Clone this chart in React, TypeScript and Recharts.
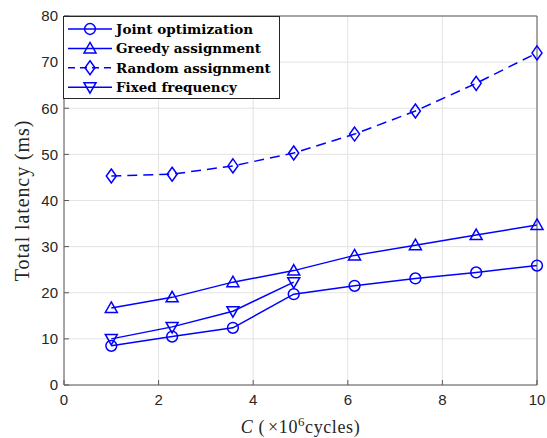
import React from "react";
import { LineChart, Line, XAxis, YAxis, CartesianGrid, Legend } from "recharts";

// computation load C (x10^6 cycles)
const cycles = [1, 2.286, 3.571, 4.857, 6.143, 7.429, 8.714, 10];
const jointOpt = [8.5, 10.5, 12.4, 19.7, 21.5, 23.1, 24.4, 25.9];
const greedyAssign = [16.7, 19.0, 22.3, 24.8, 28.1, 30.3, 32.5, 34.7];
const randomAssign = [45.3, 45.7, 47.5, 50.3, 54.4, 59.4, 65.4, 72.0];
const fixedFreq = [10.0, 12.6, 16.0, 22.3];

const xTicks = [0, 2, 4, 6, 8, 10];
const yTicks = [0, 10, 20, 30, 40, 50, 60, 70, 80];

const BLUE = "#0000ff";
const AXIS = "#262626";
const BOX = "#5a5a5a";
const SERIF = "'Liberation Serif', 'Times New Roman', Times, 'DejaVu Serif', serif";
const SANS = "'Liberation Sans', Arial, Helvetica, 'Open Sans', sans-serif";

type Shape = "circle" | "up" | "diamond" | "down";

const series: { key: string; name: string; shape: Shape; dash?: string }[] = [
  { key: "joint", name: "Joint optimization", shape: "circle" },
  { key: "greedy", name: "Greedy assignment", shape: "up" },
  { key: "random", name: "Random assignment", shape: "diamond", dash: "10 6" },
  { key: "fixed", name: "Fixed frequency", shape: "down" },
];

const data = cycles.map((c, i) => ({
  c,
  joint: jointOpt[i],
  greedy: greedyAssign[i],
  random: randomAssign[i],
  fixed: fixedFreq[i],
}));

function Marker({ shape, cx, cy }: { shape: Shape; cx: number; cy: number }) {
  const p = { fill: "none", stroke: BLUE, strokeWidth: 1.5 };
  if (shape === "circle") return <circle cx={cx} cy={cy} r={5.4} {...p} />;
  if (shape === "up")
    return <polygon points={`${cx},${cy - 6} ${cx + 6},${cy + 4.5} ${cx - 6},${cy + 4.5}`} {...p} />;
  if (shape === "down")
    return <polygon points={`${cx},${cy + 6} ${cx + 6},${cy - 4.5} ${cx - 6},${cy - 4.5}`} {...p} />;
  return <polygon points={`${cx},${cy - 7} ${cx + 5},${cy} ${cx},${cy + 7} ${cx - 5},${cy}`} {...p} />;
}

const dotFor = (shape: Shape) => (props: any) => {
  const { cx, cy, index, value } = props;
  if (value == null || cx == null || cy == null) return <g key={index} />;
  return <Marker key={index} shape={shape} cx={cx} cy={cy} />;
};

const LegendBox = () => (
  <div style={{ width: 217, height: 83, background: "#fff", border: `1px solid ${AXIS}`, boxSizing: "border-box" }}>
    <svg width={215} height={81} style={{ display: "block" }}>
      {series.map((s, i) => {
        const y = 12 + i * 19.4;
        return (
          <g key={s.key}>
            <line x1={4} x2={48} y1={y} y2={y} stroke={BLUE} strokeWidth={1.5} strokeDasharray={s.dash ? "7 5" : undefined} />
            <Marker shape={s.shape} cx={26} cy={y} />
            <text x={52} y={y + 4.7} style={{ fontFamily: "'DejaVu Serif', serif", fontWeight: "bold", fontSize: 13.5 }} fill="#000">
              {s.name}
            </text>
          </g>
        );
      })}
    </svg>
  </div>
);

const XLabel = ({ viewBox }: any) => {
  const { x, y, width, height } = viewBox;
  return (
    <text x={x + width / 2} y={y + height - 5} textAnchor="middle" style={{ fontFamily: SERIF, fontSize: 18, letterSpacing: 0.6 }} fill={AXIS}>
      <tspan style={{ fontStyle: "italic" }}>C</tspan>
      <tspan> (</tspan>
      <tspan dx={3}>×10</tspan>
      <tspan dy={-7} style={{ fontSize: 13 }}>6</tspan>
      <tspan dy={7}>cycles)</tspan>
    </text>
  );
};

const YLabel = ({ viewBox }: any) => {
  const { x, y, height } = viewBox;
  const cx = x + 22;
  const cy = y + height / 2;
  return (
    <text x={cx} y={cy} transform={`rotate(-90 ${cx} ${cy})`} textAnchor="middle" dominantBaseline="central" style={{ fontFamily: SERIF, fontSize: 20, letterSpacing: 0.9 }} fill={AXIS}>
      Total latency (ms)
    </text>
  );
};

const tickStyle = { fill: AXIS, fontSize: 15, style: { fontFamily: SANS } };

export default function App() {
  return (
    <div style={{ position: "relative", width: 547, height: 438 }}>
      <style>{"body{margin:0}"}</style>
      <LineChart width={547} height={438} data={data} margin={{ top: 16, right: 10, bottom: 0, left: 0 }}>
        <CartesianGrid stroke="#e3e3e3" strokeWidth={1} horizontalValues={yTicks} verticalValues={xTicks} />
        <XAxis
          dataKey="c"
          type="number"
          domain={[0, 10]}
          ticks={xTicks}
          height={53}
          tickSize={-5}
          tickMargin={14}
          tick={tickStyle}
          axisLine={{ stroke: BOX }}
          tickLine={{ stroke: BOX }}
          label={<XLabel />}
        />
        <XAxis xAxisId="top" orientation="top" type="number" domain={[0, 10]} ticks={xTicks} mirror tick={false} tickSize={5} height={1} axisLine={{ stroke: BOX }} tickLine={{ stroke: BOX }} />
        <YAxis
          type="number"
          domain={[0, 80]}
          ticks={yTicks}
          width={64}
          tickSize={-5}
          tickMargin={11}
          tick={tickStyle}
          axisLine={{ stroke: BOX }}
          tickLine={{ stroke: BOX }}
          label={<YLabel />}
        />
        <YAxis yAxisId="right" orientation="right" type="number" domain={[0, 80]} ticks={yTicks} mirror tick={false} tickSize={5} width={1} axisLine={{ stroke: BOX }} tickLine={{ stroke: BOX }} />
        <Legend
          layout="horizontal"
          verticalAlign="middle"
          align="center"
          wrapperStyle={{ left: 63, top: 16, width: 217, height: 83 }}
          content={<LegendBox />}
        />
        {series.map((s) => (
          <Line
            key={s.key}
            dataKey={s.key}
            name={s.name}
            type="linear"
            stroke={BLUE}
            strokeWidth={1.5}
            strokeDasharray={s.dash}
            dot={dotFor(s.shape)}
            activeDot={false}
            isAnimationActive={false}
            connectNulls={false}
          />
        ))}
      </LineChart>
    </div>
  );
}
